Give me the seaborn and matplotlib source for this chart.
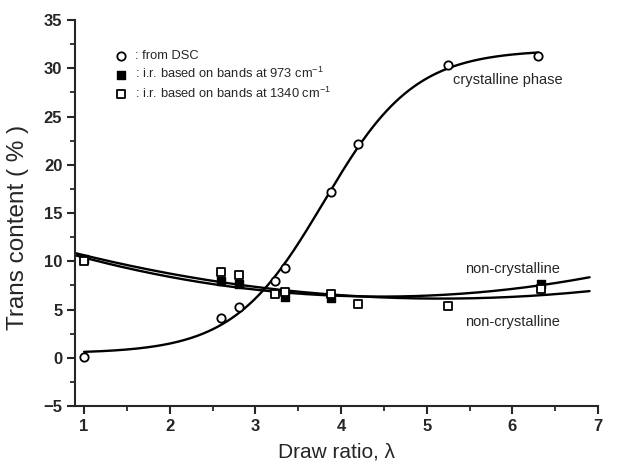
import numpy as np
import pandas as pd
import matplotlib
matplotlib.use("Agg")
import matplotlib.pyplot as plt
import seaborn as sns

# Trans content measured by DSC
dsc_ratio = [1.0, 2.6, 2.81, 3.23, 3.35, 3.88, 4.2, 5.25, 6.3]
dsc_trans = [0.1, 4.1, 5.3, 8.0, 9.35, 17.2, 22.2, 30.35, 31.3]

# Trans content from i.r. bands at 973 cm-1
ir973_ratio = [1.0, 2.6, 2.81, 3.35, 3.88, 6.33]
ir973_trans = [10.2, 7.94, 7.67, 6.28, 6.2, 7.6]

# Trans content from i.r. bands at 1340 cm-1
ir1340_ratio = [1.0, 2.6, 2.81, 3.23, 3.35, 3.88, 4.2, 5.25, 6.33]
ir1340_trans = [10.0, 8.94, 8.6, 6.6, 6.84, 6.6, 5.6, 5.35, 7.15]

x_ticks = [1, 2, 3, 4, 5, 6, 7]
y_ticks = [-5, 0, 5, 10, 15, 20, 25, 30, 35]

sns.set_style("ticks")
plt.rcParams["font.family"] = ["Liberation Sans", "DejaVu Sans"]
plt.rcParams["mathtext.fontset"] = "custom"
plt.rcParams["mathtext.rm"] = "Liberation Sans"
plt.rcParams["mathtext.default"] = "regular"


def boltzmann_fit(x, y):
    """Least-squares Boltzmann sigmoid: grid over centre/width, linear in plateaus."""
    x = np.asarray(x, float)
    y = np.asarray(y, float)
    best = None
    for x0 in np.linspace(3.0, 4.6, 161):
        for dx in np.linspace(0.15, 1.2, 106):
            s = 1.0 / (1.0 + np.exp((x - x0) / dx))
            A = np.column_stack([s, 1 - s])
            coef, *_ = np.linalg.lstsq(A, y, rcond=None)
            err = np.sum((A @ coef - y) ** 2)
            if best is None or err < best[0]:
                best = (err, coef[0], coef[1], x0, dx)
    _, a1, a2, x0, dx = best
    return lambda t: a2 + (a1 - a2) / (1.0 + np.exp((t - x0) / dx))


sig = boltzmann_fit(dsc_ratio, dsc_trans)
xs_sig = np.linspace(min(dsc_ratio), max(dsc_ratio), 300)
fit_sig = pd.DataFrame({"x": xs_sig, "y": sig(xs_sig)})

xs_nc = np.linspace(0.9, 6.9, 300)
p973 = np.polyfit(ir973_ratio, ir973_trans, 2)
p1340 = np.polyfit(ir1340_ratio, ir1340_trans, 2)
fit_973 = pd.DataFrame({"x": xs_nc, "y": np.polyval(p973, xs_nc)})
fit_1340 = pd.DataFrame({"x": xs_nc, "y": np.polyval(p1340, xs_nc)})

fig = plt.figure(figsize=(6.37, 4.67), dpi=100)
ax = fig.add_axes([0.1185, 0.1306, 0.8205, 0.8264])

for d in (fit_sig, fit_973, fit_1340):
    sns.lineplot(data=d, x="x", y="y", ax=ax, color="black", lw=1.7,
                 legend=False, zorder=2)

df_dsc = pd.DataFrame({"x": dsc_ratio, "y": dsc_trans})
df_973 = pd.DataFrame({"x": ir973_ratio, "y": ir973_trans})
df_1340 = pd.DataFrame({"x": ir1340_ratio, "y": ir1340_trans})

sns.scatterplot(data=df_dsc, x="x", y="y", ax=ax, marker="o", s=36,
                facecolor="white", edgecolor="black", linewidth=1.3,
                label=": from DSC", zorder=3)
sns.scatterplot(data=df_973, x="x", y="y", ax=ax, marker="s", s=36,
                facecolor="black", edgecolor="black", linewidth=1.0,
                label=": i.r. based on bands at 973 cm$^{-1}$", zorder=3)
sns.scatterplot(data=df_1340, x="x", y="y", ax=ax, marker="s", s=36,
                facecolor="white", edgecolor="black", linewidth=1.3,
                label=": i.r. based on bands at 1340 cm$^{-1}$", zorder=4)

ax.set_xlim(0.9, 7.0)
ax.set_ylim(-5, 35)
ax.set_xticks(x_ticks)
ax.set_yticks(y_ticks)
ax.set_xticks(np.arange(1.5, 7, 1.0), minor=True)
ax.set_yticks(np.arange(-2.5, 35, 5.0), minor=True)
ax.tick_params(which="major", direction="out", length=6, width=1.5,
               labelsize=12)
ax.tick_params(which="minor", direction="out", length=3.5, width=1.3)
for lab in ax.get_xticklabels() + ax.get_yticklabels():
    lab.set_fontweight("bold")

for side in ("top", "right"):
    ax.spines[side].set_visible(False)
for side in ("left", "bottom"):
    ax.spines[side].set_linewidth(1.5)

ax.set_xlabel("Draw ratio, λ", fontsize=15, labelpad=6)
ax.set_ylabel("Trans content ( % )", fontsize=17.5)
ax.yaxis.set_label_coords(-0.088, 0.464)

leg = ax.legend(loc="upper left", bbox_to_anchor=(0.052, 0.935), frameon=False,
                fontsize=9.3, handletextpad=0.1, labelspacing=0.3,
                borderaxespad=0.0)

ax.text(5.31, 28.8, "crystalline phase", fontsize=10.5, va="center")
ax.text(5.45, 9.25, "non-crystalline", fontsize=10.5, va="center")
ax.text(5.45, 3.67, "non-crystalline", fontsize=10.5, va="center")

fig.savefig("out.png", dpi=100)
